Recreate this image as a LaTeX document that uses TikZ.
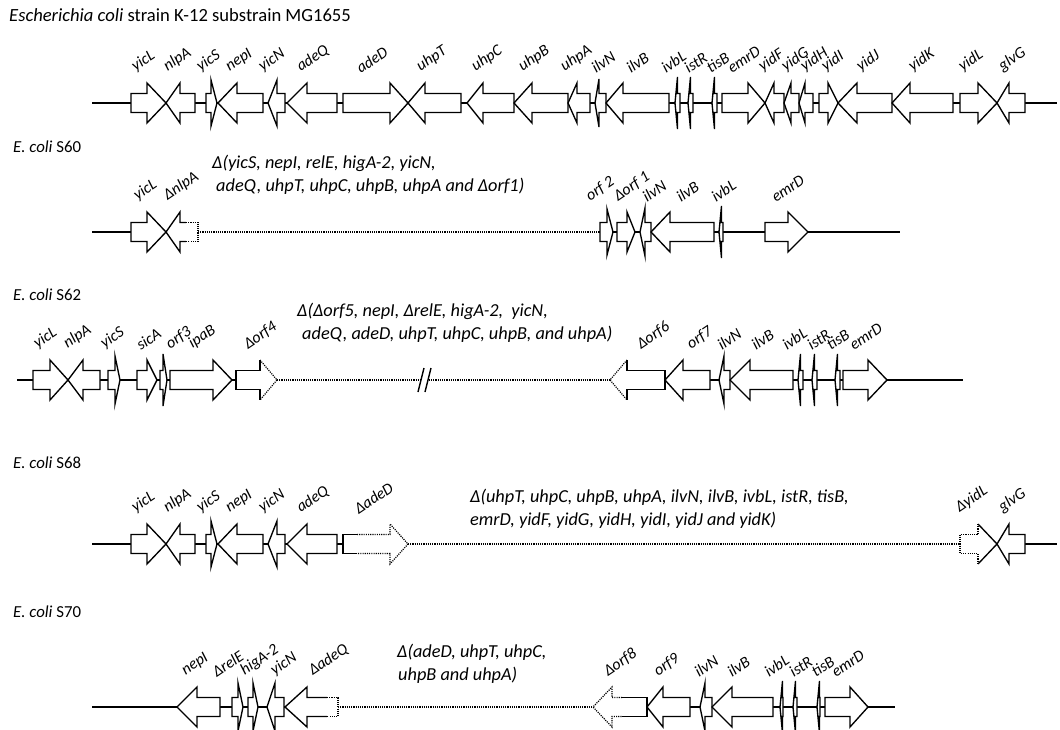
\documentclass[tikz,border=0pt]{standalone}
\usepackage{fontspec}
\setmainfont{Carlito}
\tikzset{
  gene/.style={draw=black, fill=white, line width=1.35pt, line join=miter},
  gline/.style={draw=black, line width=1.35pt},
  dline/.style={draw=black, line width=1.2pt, dash pattern=on 1.1pt off 1.1pt},
  glab/.style={anchor=south west, rotate=34, inner sep=0pt, font=\fontsize{16}{16}\selectfont\itshape},
  dtext/.style={anchor=west, inner sep=0pt, font=\fontsize{18.3}{18.3}\selectfont\itshape},
  head/.style={anchor=west, inner sep=0pt, font=\fontsize{16.8}{16.8}\selectfont},
  title/.style={anchor=west, inner sep=0pt, font=\fontsize{18.6}{18.6}\selectfont}
}
% right gene: [head half] body start, head start, tip, y
\newcommand\GR[5][20]{\draw[gene] (#2,#5-9.5) -- (#3,#5-9.5) -- (#3,#5-#1) -- (#4,#5) -- (#3,#5+#1) -- (#3,#5+9.5) -- (#2,#5+9.5) -- cycle;}
% left gene: [head half] tip, head end, body end, y
\newcommand\GL[5][20]{\draw[gene] (#2,#5) -- (#3,#5-#1) -- (#3,#5-9.5) -- (#4,#5-9.5) -- (#4,#5+9.5) -- (#3,#5+9.5) -- (#3,#5+#1) -- cycle;}
% tiny gene: x1, x2, y
\newcommand\GT[3]{\draw[gene] (#1,#3) -- (#1+2.5,#3-26) -- (#1+2.5,#3-9.5) -- (#2,#3-9.5) -- (#2,#3+9.5) -- (#1+2.5,#3+9.5) -- (#1+2.5,#3+26) -- cycle;}
\newcommand\Lb[3]{\node[glab] at (#1+4,#2-29) {#3};}
\begin{document}
\begin{tikzpicture}[x=1pt,y=-1pt]
\useasboundingbox (0,0) rectangle (1060,730);
\fill[white] (0,0) rectangle (1060,730);

% ---------- headers ----------
\node[title] (t0) at (9,15) {\textit{Escherichia coli} strain K-12 substrain MG1655};
\node[head] (t1) at (13,147) {\textit{E. coli} S60};
\node[head] (t2) at (13,295) {\textit{E. coli} S62};
\node[head] (t3) at (13,463) {\textit{E. coli} S68};
\node[head] (t4) at (13,612) {\textit{E. coli} S70};

% ---------- row 1 (MG1655) ----------
\def\ya{103}
\draw[gline] (92,\ya) -- (1057,\ya);
\GR{131}{147}{166}{\ya}
\GL{166}{180}{195}{\ya}
\GR[23]{206}{211}{217}{\ya}
\GL{218}{237}{263}{\ya}
\GL[23]{268}{277}{285}{\ya}
\GL{287}{307}{337}{\ya}
\GR{343}{390}{408}{\ya}
\GL{408}{425}{461}{\ya}
\GL{467}{483}{514}{\ya}
\GL{514}{532}{568}{\ya}
\GL{568}{577}{590}{\ya}
\GL[24]{595}{599}{606}{\ya}
\GL{606}{623}{669}{\ya}
\GT{675}{680}{\ya}
\GT{688}{693}{\ya}
\GT{712}{717}{\ya}
\GR{722}{748}{765}{\ya}
\GL{765}{774}{784}{\ya}
\GL{784}{791}{799}{\ya}
\GL{799}{805}{813}{\ya}
\GR{819}{828}{838}{\ya}
\GL{838}{857}{892}{\ya}
\GL{892}{910}{953}{\ya}
\GR{960}{978}{997}{\ya}
\GL{997}{1009}{1025}{\ya}
\Lb{133}{\ya}{yicL}\Lb{165}{\ya}{nlpA}\Lb{198}{\ya}{yicS}\Lb{227}{\ya}{nepI}
\Lb{260}{\ya}{yicN}\Lb{298}{\ya}{adeQ}\Lb{357}{\ya}{adeD}\Lb{418}{\ya}{uhpT}
\Lb{473}{\ya}{uhpC}\Lb{520}{\ya}{uhpB}\Lb{562}{\ya}{uhpA}\Lb{592}{\ya}{ilvN}
\Lb{627}{\ya}{ilvB}\Lb{662}{\ya}{ivbL}\Lb{685}{\ya}{istR}\Lb{707}{\ya}{tisB}
\Lb{728}{\ya}{emrD}\Lb{760}{\ya}{yidF}\Lb{783}{\ya}{yidG}\Lb{802}{\ya}{yidH}
\Lb{823}{\ya}{yidI}\Lb{858}{\ya}{yidJ}\Lb{910}{\ya}{yidK}\Lb{960}{\ya}{yidL}
\Lb{1000}{\ya}{glvG}

% ---------- row 2 (S60) ----------
\def\yb{232}
\draw[gline] (92,\yb) -- (198,\yb);
\draw[dline] (198,\yb) -- (600,\yb);
\draw[gline] (600,\yb) -- (900,\yb);
\GR{131}{147}{166}{\yb}
\fill[white] (166,\yb) -- (180,\yb-20) -- (180,\yb-9.5) -- (198,\yb-9.5) -- (198,\yb+9.5) -- (180,\yb+9.5) -- (180,\yb+20) -- cycle;
\draw[gline] (186,\yb-9.5) -- (180,\yb-9.5) -- (180,\yb-20) -- (166,\yb) -- (180,\yb+20) -- (180,\yb+9.5) -- (186,\yb+9.5);
\draw[dline] (186,\yb-9.5) -- (198,\yb-9.5) -- (198,\yb+9.5) -- (186,\yb+9.5);
\GR[23]{600}{607}{613}{\yb}
\GR{617}{627}{635}{\yb}
\GL[24]{640}{645}{651}{\yb}
\GL{651}{670}{714}{\yb}
\GT{719}{723}{\yb}
\GR{765}{788}{808}{\yb}
\Lb{135}{\yb}{yicL}\Lb{165}{\yb}{ΔnlpA}
\Lb{587}{\yb}{orf 2}\Lb{615}{\yb}{Δorf 1}\Lb{643}{\yb}{ilvN}\Lb{677}{\yb}{ilvB}
\Lb{712}{\yb}{ivbL}\Lb{772}{\yb}{emrD}
\node[dtext] (d1a) at (212,163) {Δ(yicS, nepI, relE, higA-2, yicN,};
\node[dtext] (d1b) at (216,186) {adeQ, uhpT, uhpC, uhpB, uhpA and Δorf1)};

% ---------- row 3 (S62) ----------
\def\yc{380}
\draw[gline] (17,\yc) -- (277,\yc);
\draw[dline] (277,\yc) -- (610,\yc);
\draw[gline] (610,\yc) -- (963,\yc);
\GR{33}{50}{68}{\yc}
\GL{68}{83}{100}{\yc}
\GR[24]{108}{115}{120}{\yc}
\GR{137}{147}{157}{\yc}
\GR[26]{160}{163}{167}{\yc}
\GR{170}{213}{232}{\yc}
\fill[white] (236,\yc-9.5) -- (260,\yc-9.5) -- (260,\yc-20) -- (277,\yc) -- (260,\yc+20) -- (260,\yc+9.5) -- (236,\yc+9.5) -- cycle;
\draw[gline] (260,\yc-20) -- (260,\yc-9.5) -- (236,\yc-9.5) -- (236,\yc+9.5) -- (260,\yc+9.5) -- (260,\yc+20);
\draw[dline] (260,\yc-20) -- (277,\yc) -- (260,\yc+20);
\fill[white] (418,\yc+12) -- (424,\yc-12) -- (431,\yc-12) -- (425,\yc+12) -- cycle;
\draw[gline] (418,\yc+12) -- (424,\yc-12);
\draw[gline] (425,\yc+12) -- (431,\yc-12);
\fill[white] (610,\yc) -- (627,\yc-20) -- (627,\yc-9.5) -- (665,\yc-9.5) -- (665,\yc+9.5) -- (627,\yc+9.5) -- (627,\yc+20) -- cycle;
\draw[gline] (627,\yc-20) -- (627,\yc-9.5) -- (665,\yc-9.5) -- (665,\yc+9.5) -- (627,\yc+9.5) -- (627,\yc+20);
\draw[dline] (627,\yc-20) -- (610,\yc) -- (627,\yc+20);
\GL{665}{683}{710}{\yc}
\GL[24]{719}{724}{730}{\yc}
\GL{730}{750}{793}{\yc}
\GT{798}{803}{\yc}
\GT{812}{817}{\yc}
\GT{835}{840}{\yc}
\GR{843}{868}{887}{\yc}
\Lb{35}{\yc}{yicL}\Lb{65}{\yc}{nlpA}\Lb{102}{\yc}{yicS}\Lb{137}{\yc}{sicA}
\Lb{167}{\yc}{orf3}\Lb{190}{\yc}{ipaB}\Lb{245}{\yc}{Δorf4}
\Lb{638}{\yc}{Δorf6}\Lb{688}{\yc}{orf7}\Lb{718}{\yc}{ilvN}\Lb{752}{\yc}{ilvB}
\Lb{783}{\yc}{ivbL}\Lb{808}{\yc}{istR}\Lb{827}{\yc}{tisB}\Lb{850}{\yc}{emrD}
\node[dtext] (d2a) at (297,311) {Δ(Δorf5, nepI, ΔrelE, higA-2,\ \ yicN,};
\node[dtext] (d2b) at (302,334) {adeQ, adeD, uhpT, uhpC, uhpB, and uhpA)};

% ---------- row 4 (S68) ----------
\def\yd{544}
\draw[gline] (92,\yd) -- (343,\yd);
\draw[dline] (408,\yd) -- (960,\yd);
\draw[gline] (997,\yd) -- (1057,\yd);
\GR{131}{147}{166}{\yd}
\GL{166}{180}{195}{\yd}
\GR[23]{206}{211}{217}{\yd}
\GL{218}{237}{263}{\yd}
\GL[23]{268}{277}{285}{\yd}
\GL{287}{307}{337}{\yd}
\fill[white] (343,\yd-9.5) -- (390,\yd-9.5) -- (390,\yd-20) -- (408,\yd) -- (390,\yd+20) -- (390,\yd+9.5) -- (343,\yd+9.5) -- cycle;
\draw[gline] (357,\yd-9.5) -- (343,\yd-9.5) -- (343,\yd+9.5) -- (357,\yd+9.5);
\draw[dline] (357,\yd-9.5) -- (390,\yd-9.5) -- (390,\yd-20) -- (408,\yd) -- (390,\yd+20) -- (390,\yd+9.5) -- (357,\yd+9.5);
\fill[white] (960,\yd-9.5) -- (978,\yd-9.5) -- (978,\yd-20) -- (997,\yd) -- (978,\yd+20) -- (978,\yd+9.5) -- (960,\yd+9.5) -- cycle;
\draw[dline] (978,\yd-20) -- (978,\yd-9.5) -- (960,\yd-9.5) -- (960,\yd+9.5) -- (978,\yd+9.5) -- (978,\yd+20);
\draw[gline] (978,\yd-20) -- (997,\yd) -- (978,\yd+20);
\GL{997}{1009}{1025}{\yd}
\Lb{133}{\yd}{yicL}\Lb{165}{\yd}{nlpA}\Lb{198}{\yd}{yicS}\Lb{227}{\yd}{nepI}
\Lb{260}{\yd}{yicN}\Lb{298}{\yd}{adeQ}\Lb{355}{\yd}{ΔadeD}
\Lb{957}{\yd}{ΔyidL}\Lb{1000}{\yd}{glvG}
\node[dtext] (d3a) at (470,497) {Δ(uhpT, uhpC, uhpB, uhpA, ilvN, ilvB, ivbL, istR, tisB,};
\node[dtext] (d3b) at (470,520) {emrD, yidF, yidG, yidH, yidI, yidJ and yidK)};

% ---------- row 5 (S70) ----------
\def\ye{707}
\draw[gline] (92,\ye) -- (327,\ye);
\draw[dline] (338,\ye) -- (593,\ye);
\draw[gline] (647,\ye) -- (895,\ye);
\GL{177}{197}{220}{\ye}
\GR[24]{232}{238}{243}{\ye}
\GR[24]{248}{253}{258}{\ye}
\GL[24]{267}{275}{284}{\ye}
\fill[white] (285,\ye) -- (307,\ye-20) -- (307,\ye-9.5) -- (338,\ye-9.5) -- (338,\ye+9.5) -- (307,\ye+9.5) -- (307,\ye+20) -- cycle;
\draw[gline] (327,\ye-9.5) -- (307,\ye-9.5) -- (307,\ye-20) -- (285,\ye) -- (307,\ye+20) -- (307,\ye+9.5) -- (327,\ye+9.5);
\draw[dline] (327,\ye-9.5) -- (338,\ye-9.5) -- (338,\ye+9.5) -- (327,\ye+9.5);
\fill[white] (593,\ye) -- (612,\ye-20) -- (612,\ye-9.5) -- (647,\ye-9.5) -- (647,\ye+9.5) -- (612,\ye+9.5) -- (612,\ye+20) -- cycle;
\draw[dline] (622,\ye-9.5) -- (612,\ye-9.5) -- (612,\ye-20) -- (593,\ye) -- (612,\ye+20) -- (612,\ye+9.5) -- (622,\ye+9.5);
\draw[gline] (622,\ye-9.5) -- (647,\ye-9.5) -- (647,\ye+9.5) -- (622,\ye+9.5);
\GL{647}{663}{690}{\ye}
\GL[24]{700}{705}{712}{\ye}
\GL{712}{732}{773}{\ye}
\GT{780}{783}{\ye}
\GT{793}{797}{\ye}
\GT{817}{820}{\ye}
\GR{825}{850}{868}{\ye}
\Lb{183}{\ye}{nepI}\Lb{213}{\ye}{ΔrelE}\Lb{242}{\ye}{higA-2}\Lb{272}{\ye}{yicN}
\Lb{310}{\ye}{ΔadeQ}
\Lb{605}{\ye}{Δorf8}\Lb{655}{\ye}{orf9}\Lb{695}{\ye}{ilvN}\Lb{728}{\ye}{ilvB}
\Lb{765}{\ye}{ivbL}\Lb{790}{\ye}{istR}\Lb{812}{\ye}{tisB}\Lb{832}{\ye}{emrD}
\node[dtext] (d4a) at (397,652) {Δ(adeD, uhpT, uhpC,};
\node[dtext] (d4b) at (398,675) {uhpB and uhpA)};
\end{tikzpicture}
\end{document}
